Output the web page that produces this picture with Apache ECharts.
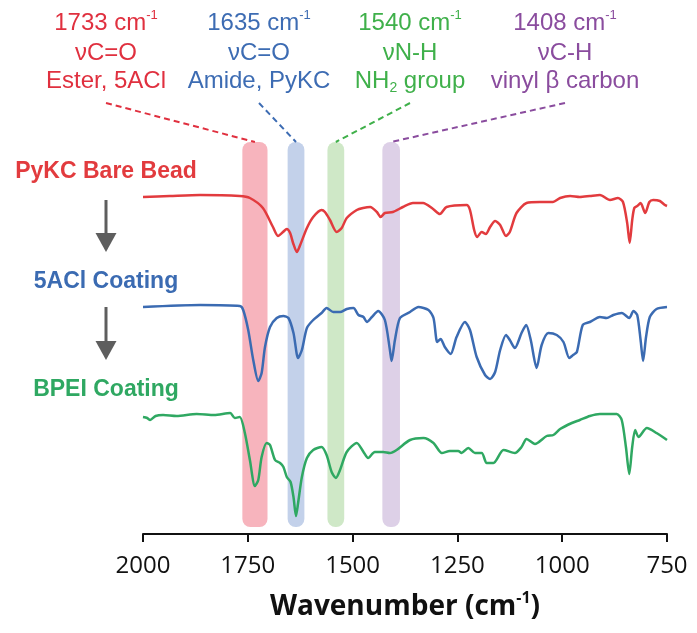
<!DOCTYPE html>
<html>
<head>
<meta charset="utf-8">
<script src="https://cdn.jsdelivr.net/npm/echarts@6/dist/echarts.min.js"></script>
<style>
  html, body { margin: 0; padding: 0; background: #fff; }
  #chart { width: 697px; height: 633px; }
</style>
</head>
<body>
<div id="chart"></div>
<script>
// FTIR spectra, offset for display (a.u. on a hidden axis), [wavenumber, value]
const pykcBare = [
  [2000, 337], [1936, 338], [1864, 339], [1769, 338], [1745, 336], [1714, 326], [1690, 307],
  [1678, 298], [1666, 302], [1657, 305], [1649, 301], [1642, 291], [1633, 282], [1625, 289],
  [1609, 306], [1594, 317], [1574, 324], [1566, 322], [1554, 314], [1538, 302], [1526, 306],
  [1514, 316], [1490, 324], [1475, 326], [1458, 327], [1442, 322], [1433, 317], [1423, 321],
  [1404, 322], [1380, 327], [1356, 331], [1332, 331], [1308, 325], [1292, 320], [1276, 327],
  [1228, 329], [1220, 324], [1210, 304], [1203, 297], [1192, 302], [1182, 300], [1172, 307],
  [1160, 313], [1148, 309], [1134, 298], [1125, 302], [1109, 321], [1085, 331], [1053, 332],
  [1022, 332], [1005, 336], [981, 338], [958, 337], [934, 338], [910, 339], [886, 334],
  [867, 336], [855, 332], [845, 311], [839, 291], [833, 314], [828, 326], [821, 328],
  [813, 331], [802, 321], [792, 332], [783, 334], [767, 333], [755, 329], [750, 328]
];
const aclCoating = [
  [2000, 227], [1864, 229], [1769, 228], [1761, 224], [1749, 204], [1737, 174], [1725, 153],
  [1717, 161], [1709, 187], [1697, 207], [1681, 216], [1665, 218], [1653, 216], [1641, 201],
  [1630, 176], [1621, 184], [1609, 206], [1594, 214], [1574, 221], [1562, 226], [1546, 222],
  [1530, 222], [1514, 225], [1498, 226], [1486, 219], [1474, 217], [1466, 212], [1454, 217],
  [1439, 223], [1423, 214], [1411, 184], [1407, 173], [1399, 194], [1387, 216], [1363, 222],
  [1343, 227], [1319, 224], [1307, 216], [1298, 192], [1290, 195], [1280, 187], [1266, 180],
  [1252, 197], [1232, 212], [1220, 204], [1204, 177], [1184, 159], [1172, 155], [1160, 162],
  [1148, 184], [1134, 199], [1125, 194], [1113, 186], [1097, 201], [1086, 209], [1075, 194],
  [1061, 166], [1049, 189], [1033, 201], [1013, 199], [997, 192], [983, 176], [974, 179],
  [965, 182], [951, 209], [934, 212], [910, 217], [894, 216], [878, 219], [858, 221],
  [840, 216], [830, 223], [821, 219], [813, 194], [807, 173], [800, 197], [791, 217],
  [775, 225], [750, 227]
];
const bpeiCoating = [
  [2000, 117], [1990, 116], [1983, 114], [1970, 118], [1952, 119], [1920, 118], [1872, 120],
  [1830, 119], [1792, 121], [1781, 116], [1769, 117], [1757, 101], [1745, 74], [1733, 48],
  [1725, 54], [1717, 77], [1705, 91], [1697, 89], [1685, 74], [1673, 71], [1665, 67],
  [1657, 57], [1648, 52], [1641, 37], [1635, 18], [1630, 31], [1621, 57], [1609, 76],
  [1594, 84], [1574, 87], [1562, 79], [1550, 62], [1540, 56], [1530, 64], [1514, 82],
  [1490, 91], [1474, 82], [1463, 76], [1447, 82], [1427, 82], [1411, 81], [1395, 84],
  [1363, 94], [1331, 96], [1307, 91], [1287, 81], [1268, 83], [1248, 83], [1240, 81],
  [1224, 86], [1208, 81], [1192, 81], [1180, 71], [1164, 71], [1140, 84], [1113, 81],
  [1097, 87], [1085, 95], [1065, 90], [1037, 98], [1021, 99], [1005, 105], [977, 111],
  [958, 114], [934, 118], [910, 120], [870, 120], [858, 114], [848, 87], [840, 60],
  [833, 87], [826, 104], [818, 97], [798, 106], [775, 101], [750, 94]
];

const seriesNames = ['PyKC Bare Bead', '5ACl Coating', 'BPEI Coating'];
const seriesColors = ['#e23b3e', '#3b6bb2', '#2fa862'];

// highlighted bands: centre and width in cm-1
const bandCenters = [1733, 1635, 1540, 1408];
const bandWidths = [60, 40, 40, 42];
const bandColors = ['#f7b4bd', '#c3d1ea', '#cfe8c7', '#ddd0e7'];
const labelColors = ['#e0303f', '#3d6cb3', '#3fb04a', '#8a4c9e'];
const peakLabels = ['1733', '1635', '1540', '1408'];
const modeLabels = ['νC=O', 'νC=O', 'νN-H', 'νC-H'];
const groupLabels = ['Ester, 5ACl', 'Amide, PyKC', 'NH{sub|2} group', 'vinyl β carbon'];

const BAND_TOP = 392;
const BAND_BOTTOM = 7;
const labelX = [106, 259, 410, 565];
const LEADER_Y = 103;

const chart = echarts.init(document.getElementById('chart'));

function renderBand(params, api) {
  const i = params.dataIndex;
  const c = api.value(0);
  const w = api.value(1);
  const p1 = api.coord([c + w / 2, BAND_TOP]);
  const p2 = api.coord([c - w / 2, BAND_BOTTOM]);
  const top = api.coord([c, BAND_TOP]);
  const x = Math.min(p1[0], p2[0]);
  const width = Math.abs(p2[0] - p1[0]);
  return {
    type: 'group',
    children: [
      {
        type: 'rect',
        shape: { x: x, y: p1[1], width: width, height: p2[1] - p1[1], r: 8 },
        style: { fill: bandColors[i] }
      },
      {
        type: 'line',
        shape: { x1: labelX[i], y1: LEADER_Y, x2: top[0], y2: top[1] },
        style: { stroke: labelColors[i], lineWidth: 2, lineDash: [6, 4] }
      }
    ]
  };
}

const annoFont = 'Liberation Sans, Arial, sans-serif';
const graphics = [];
peakLabels.forEach((p, i) => {
  graphics.push({
    type: 'text', x: labelX[i], y: 23,
    style: {
      text: '{n|' + p + ' cm}{sup|-1}',
      textAlign: 'center', textVerticalAlign: 'middle', fill: labelColors[i],
      rich: {
        n: { fontSize: 24, fontFamily: annoFont, lineHeight: 28, fill: labelColors[i] },
        sup: { fontSize: 13, fontFamily: annoFont, lineHeight: 14, verticalAlign: 'top', fill: labelColors[i] }
      }
    }
  });
  graphics.push({
    type: 'text', x: labelX[i], y: 53,
    style: {
      text: modeLabels[i], fontSize: 24, fontFamily: annoFont,
      textAlign: 'center', textVerticalAlign: 'middle', fill: labelColors[i]
    }
  });
  graphics.push({
    type: 'text', x: labelX[i], y: 81,
    style: {
      text: '{n|' + groupLabels[i].replace('{sub|2}', '}{sub|2}{n|') + '}',
      textAlign: 'center', textVerticalAlign: 'middle', fill: labelColors[i],
      rich: {
        n: { fontSize: 24, fontFamily: annoFont, lineHeight: 28, fill: labelColors[i] },
        sub: { fontSize: 14, fontFamily: annoFont, lineHeight: 14, verticalAlign: 'bottom', fill: labelColors[i] }
      }
    }
  });
});

// series names on the left
const nameY = [172, 282, 390];
seriesNames.forEach((n, i) => {
  graphics.push({
    type: 'text', x: 106, y: nameY[i],
    style: {
      text: n, fontSize: 23, fontWeight: 'bold', fontFamily: annoFont,
      textAlign: 'center', textVerticalAlign: 'middle', fill: seriesColors[i]
    }
  });
});

// downward arrows between the names
[[200, 252], [307, 360]].forEach(([y1, y2]) => {
  graphics.push({
    type: 'line',
    shape: { x1: 106, y1: y1, x2: 106, y2: y2 - 16 },
    style: { stroke: '#5e5e5e', lineWidth: 3 }
  });
  graphics.push({
    type: 'polygon',
    shape: { points: [[95.5, y2 - 19], [116.5, y2 - 19], [106, y2]] },
    style: { fill: '#5e5e5e' }
  });
});

const spectra = [pykcBare, aclCoating, bpeiCoating];

chart.setOption({
  animation: false,
  grid: { left: 143, right: 30, top: 142, bottom: 99 },
  xAxis: {
    type: 'value',
    inverse: true,
    min: 750,
    max: 2000,
    interval: 250,
    name: '{b|Wavenumber (cm}{s|-1}{b|)}',
    nameLocation: 'middle',
    nameGap: 56,
    nameTextStyle: {
      rich: {
        b: { fontSize: 28, fontWeight: 'bold', fontFamily: 'Open Sans', color: '#111', lineHeight: 34 },
        s: { fontSize: 16, fontWeight: 'bold', fontFamily: 'Open Sans', color: '#111', lineHeight: 18, verticalAlign: 'top' }
      }
    },
    axisLine: { lineStyle: { color: '#111', width: 2 } },
    axisTick: { show: true, inside: false, length: 8, lineStyle: { color: '#111', width: 2 } },
    axisLabel: {
      fontSize: 24, fontFamily: 'Open Sans', color: '#111', margin: 20,
      formatter: (v) => String(v)
    },
    splitLine: { show: false }
  },
  yAxis: { type: 'value', min: 0, max: 392, show: false },
  graphic: graphics,
  series: [
    {
      type: 'custom',
      renderItem: renderBand,
      data: bandCenters.map((c, i) => [c, bandWidths[i]]),
      clip: false,
      z: 1,
      silent: true
    }
  ].concat(spectra.map((d, i) => ({
    name: seriesNames[i],
    type: 'line',
    data: d,
    showSymbol: false,
    smooth: 0.25,
    lineStyle: { color: seriesColors[i], width: 2.5 },
    z: 3
  })))
});
</script>
</body>
</html>
